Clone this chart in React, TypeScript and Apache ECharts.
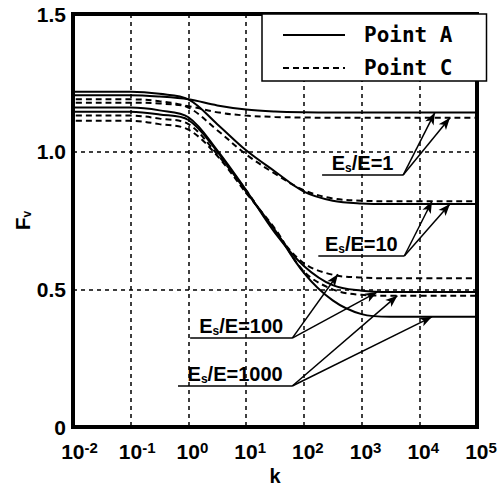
import React, { useEffect, useRef } from "react";
import * as echarts from "echarts";

// k values (log axis), including the short stubs drawn just beyond the frame
const kValues = [0.005, 0.01, 0.1, 0.316, 1, 3.16, 10, 31.6, 100, 316, 1000, 3160, 10000, 100000, 200000];

const es1PointA = [1.205, 1.205, 1.205, 1.2, 1.19, 1.168, 1.153, 1.146, 1.143, 1.142, 1.142, 1.142, 1.142, 1.142, 1.142];
const es1PointC = [1.178, 1.178, 1.178, 1.175, 1.165, 1.143, 1.131, 1.126, 1.124, 1.123, 1.123, 1.123, 1.123, 1.123, 1.123];
const es10PointA = [1.218, 1.218, 1.218, 1.21, 1.19, 1.1, 1.005, 0.928, 0.855, 0.822, 0.812, 0.81, 0.81, 0.81, 0.81];
const es10PointC = [1.19, 1.19, 1.19, 1.183, 1.16, 1.078, 0.99, 0.92, 0.86, 0.83, 0.822, 0.82, 0.82, 0.82, 0.82];
const es100PointA = [1.16, 1.16, 1.16, 1.15, 1.125, 1.005, 0.86, 0.705, 0.585, 0.515, 0.495, 0.49, 0.49, 0.49, 0.49];
const es100PointC = [1.131, 1.131, 1.131, 1.12, 1.1, 0.99, 0.86, 0.71, 0.595, 0.553, 0.543, 0.54, 0.54, 0.54, 0.54];
const es1000PointA = [1.145, 1.145, 1.145, 1.135, 1.115, 1.0, 0.855, 0.715, 0.56, 0.46, 0.41, 0.4, 0.4, 0.4, 0.4];
const es1000PointC = [1.112, 1.112, 1.112, 1.1, 1.08, 0.985, 0.85, 0.72, 0.565, 0.5, 0.48, 0.477, 0.477, 0.477, 0.477];

const legendNames = ["Point A", "Point C"];

const curves = [
  { name: "Point A", values: es1PointA },
  { name: "Point C", values: es1PointC },
  { name: "Point A", values: es10PointA },
  { name: "Point C", values: es10PointC },
  { name: "Point A", values: es100PointA },
  { name: "Point C", values: es100PointC },
  { name: "Point A", values: es1000PointA },
  { name: "Point C", values: es1000PointC },
];

// annotation: ratio label, underline start/end [k, Fv], arrow tips [k, Fv]
const annotations = [
  { ratio: "1", from: [207, 0.915], to: [5250, 0.915], tips: [[18600, 1.142], [34000, 1.123]] },
  { ratio: "10", from: [178, 0.621], to: [5500, 0.621], tips: [[16600, 0.82], [34000, 0.81]] },
  { ratio: "100", from: [1.07, 0.323], to: [63, 0.323], tips: [[390, 0.555], [1860, 0.49]] },
  { ratio: "1000", from: [0.66, 0.149], to: [63, 0.149], tips: [[4170, 0.477], [16600, 0.4]] },
];

const yMin = 0;
const yMax = 1.5;
const yStep = 0.5;
const xMin = 0.01;
const xMax = 100000;

const gridLineStyle = { color: "#000", type: [4, 4] as any, width: 1.5 };

export default function App() {
  const ref = useRef<HTMLDivElement>(null);
  useEffect(() => {
    if (!ref.current) return;
    const chart = echarts.init(ref.current, null, { renderer: "svg" });

    const markData: any[] = [];
    annotations.forEach((a) => {
      markData.push([
        {
          coord: a.from,
          symbol: "none",
          label: {
            show: true,
            position: "insideMiddleTop",
            distance: 1,
            formatter: `{e|E}{s|s}{e|/E=${a.ratio}}`,
            rich: {
              e: { fontFamily: "Liberation Sans", fontWeight: "bold", fontSize: 20, color: "#000", lineHeight: 22 },
              s: { fontFamily: "Liberation Sans", fontWeight: "bold", fontSize: 12, color: "#000", lineHeight: 12, verticalAlign: "bottom" },
            },
          },
        },
        { coord: a.to, symbol: "none" },
      ]);
      a.tips.forEach((t) => {
        markData.push([
          { coord: a.to, symbol: "none", label: { show: false } },
          { coord: t, symbol: "arrow", symbolSize: [7, 12] },
        ]);
      });
    });

    const series: any[] = curves.map((c, i) => ({
      type: "line",
      name: c.name,
      data: kValues.map((k, j) => [k, c.values[j]]),
      symbol: "none",
      showSymbol: false,
      smooth: 0.35,
      clip: false,
      silent: true,
      z: 3,
      itemStyle: { color: "#000" },
      lineStyle: {
        color: "#000",
        width: 2,
        type: c.name === "Point A" ? "solid" : [6, 4],
      },
      markLine:
        i === 0
          ? {
              silent: true,
              animation: false,
              symbol: ["none", "arrow"],
              lineStyle: { color: "#000", width: 1.5, type: "solid" },
              label: { show: false },
              emphasis: { disabled: true },
              data: markData,
            }
          : undefined,
    }));

    const labelFont = { fontFamily: "Liberation Sans", fontWeight: "bold" as const, color: "#000" };

    chart.setOption({
      animation: false,
      backgroundColor: "#fff",
      grid: {
        left: 73,
        right: 27,
        top: 14,
        bottom: 60,
        show: true,
        borderColor: "#000",
        borderWidth: 4,
        backgroundColor: "transparent",
        outerBoundsMode: "none",
        containLabel: false,
      },
      legend: {
        data: legendNames,
        orient: "vertical",
        left: 262,
        top: 14,
        backgroundColor: "#fff",
        borderColor: "#000",
        borderWidth: 1.5,
        borderRadius: 0,
        padding: [10, 34, 2, 20],
        itemGap: 11,
        itemWidth: 62,
        itemHeight: 14,
        selectedMode: false,
        itemStyle: { opacity: 0 },
        textStyle: {
          fontFamily: "DejaVu Sans Mono",
          fontWeight: "bold",
          fontSize: 21,
          color: "#000",
          lineHeight: 22,
          padding: [0, 0, 0, 14],
        },
      },
      xAxis: {
        type: "log",
        logBase: 10,
        min: xMin,
        max: xMax,
        splitNumber: 7,
        axisLine: { show: false },
        axisTick: { show: false },
        splitLine: { show: true, lineStyle: gridLineStyle },
        axisLabel: {
          margin: 13,
          formatter: (v: number) => {
            const e = Math.round(Math.log10(v));
            return `{${e < 0 ? "bn" : "bp"}|10}{s|${e}}`;
          },
          rich: {
            bn: { ...labelFont, fontSize: 21, lineHeight: 22, verticalAlign: "bottom", padding: [0, 0, 0, 13] },
            bp: { ...labelFont, fontSize: 21, lineHeight: 22, verticalAlign: "bottom", padding: [0, 0, 0, 8] },
            s: { ...labelFont, fontSize: 15, lineHeight: 15, verticalAlign: "top", padding: [0, 0, 13, 0] },
          },
        },
        name: "k",
        nameLocation: "middle",
        nameGap: 40,
        nameMoveOverlap: false,
        nameTextStyle: { ...labelFont, fontSize: 20, lineHeight: 18 },
      },
      yAxis: {
        type: "value",
        min: yMin,
        max: yMax,
        interval: yStep,
        axisLine: { show: false },
        axisTick: { show: false },
        splitLine: { show: true, lineStyle: gridLineStyle },
        axisLabel: {
          ...labelFont,
          fontSize: 21,
          margin: 7,
          formatter: (v: number) => (v === 0 ? "0" : v.toFixed(1)),
        },
        name: "{f|F}{v|v}",
        nameLocation: "middle",
        nameGap: 40,
        nameMoveOverlap: false,
        nameRotate: 90,
        nameTextStyle: {
          rich: {
            f: { ...labelFont, fontSize: 21, lineHeight: 22 },
            v: { ...labelFont, fontSize: 12, lineHeight: 12, verticalAlign: "bottom" },
          },
        },
      },
      series,
    });
    return () => chart.dispose();
  }, []);
  return <div ref={ref} style={{ width: 504, height: 487, position: "absolute", left: 0, top: 0, background: "#fff" }} />;
}
